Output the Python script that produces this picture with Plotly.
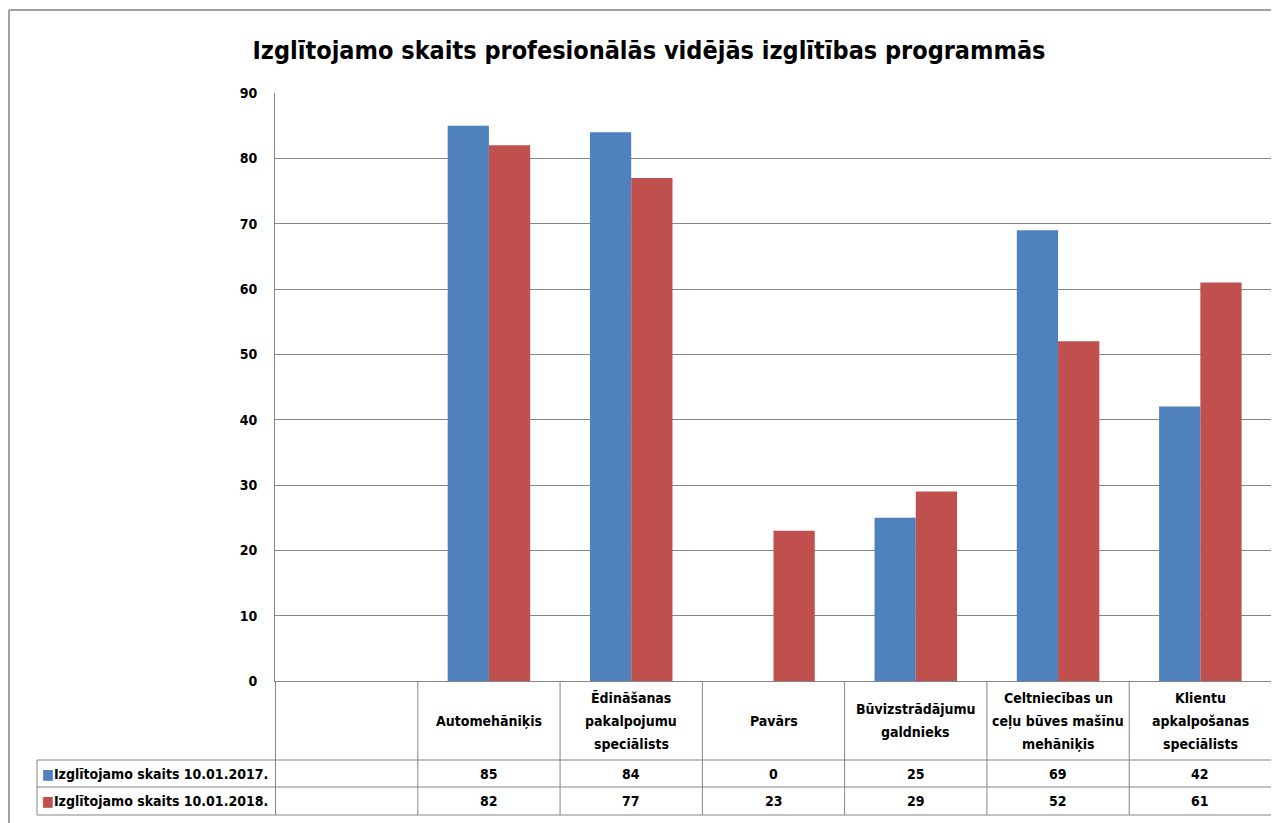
"""
Izglītojamo skaits profesionālās vidējās izglītības programmās
Excel-style clustered column chart with a data table under the axis
"""

import plotly.graph_objects as go

# Categories (first column of the original chart is an empty one)
categories = [" ", "Automehāniķis", "Ēdināšanas pakalpojumu speciālists", "Pavārs",
              "Būvizstrādājumu galdnieks", "Celtniecības un ceļu būves mašīnu mehāniķis",
              "Klientu apkalpošanas speciālists"]
header_labels = ["", "Automehāniķis", "Ēdināšanas<br>pakalpojumu<br>speciālists", "Pavārs",
                 "Būvizstrādājumu<br>galdnieks", "Celtniecības un<br>ceļu būves mašīnu<br>mehāniķis",
                 "Klientu<br>apkalpošanas<br>speciālists"]
series_names = ["Izglītojamo skaits 10.01.2017.", "Izglītojamo skaits 10.01.2018."]
values_2017 = [None, 85, 84, 0, 25, 69, 42]
values_2018 = [None, 82, 77, 23, 29, 52, 61]
y_ticks = [0, 10, 20, 30, 40, 50, 60, 70, 80, 90]

BLUE = '#4F81BD'
RED = '#C0504D'
GRID = '#868686'
FONT = 'DejaVu Sans Condensed, DejaVu Sans, sans-serif'

# the page body adds an 8px margin, so figure pixels = page pixels - 8
OFF = 8
W, H = 1279 - OFF, 823 - OFF
L = 275 - OFF
T = 93 - OFF
B = H - (681 - OFF)
R = W - (1272 - OFF)
plot_h = H - T - B
plot_w = W - L - R


def py(page_y):
    # page pixel row -> paper y
    return (H - B - (page_y - OFF)) / plot_h


def px(page_x):
    # page pixel column -> paper x
    return (page_x - OFF - L) / plot_w


fig = go.Figure()
for name, vals, col in [(series_names[0], values_2017, BLUE), (series_names[1], values_2018, RED)]:
    fig.add_trace(go.Bar(x=categories, y=vals, name=name, marker=dict(color=col, line=dict(width=0))))

fig.update_layout(
    width=W, height=H,
    margin=dict(l=L, r=R, t=T, b=B),
    paper_bgcolor='white', plot_bgcolor='white',
    barmode='group', bargap=0.42, bargroupgap=0,
    showlegend=False,
    font=dict(family=FONT, size=14, color='black'),
    title=dict(text='<b>Izglītojamo skaits profesionālās vidējās izglītības programmās</b>',
               x=(649 - OFF) / W, xref='container', xanchor='center',
               y=1 - (50 - OFF) / H, yref='container', yanchor='middle',
               font=dict(family=FONT, size=25, color='black')),
)
fig.update_xaxes(showticklabels=False, showgrid=False, showline=True, linecolor=GRID,
                 linewidth=1, ticks='', categoryorder='array', categoryarray=categories)
fig.update_yaxes(range=[0, 90], tickvals=y_ticks, ticktext=[f'<b>{v}</b>' for v in y_ticks],
                 showgrid=True, gridcolor=GRID, gridwidth=1, showline=True, linecolor=GRID,
                 linewidth=1, ticks='', ticklabelstandoff=14, zeroline=False,
                 tickfont=dict(family=FONT, size=14, color='black'))

# data table under the plot
row_lines = [760, 787, 815]
row_centers = [773.5, 801]
header_center = 720.5
line_step = 23
n = len(categories)
line = dict(color=GRID, width=1)
for k in range(n + 1):
    fig.add_shape(type='line', xref='x', yref='paper', x0=k - 0.5, x1=k - 0.5,
                  y0=0, y1=py(row_lines[-1]), line=line)
legend_left = px(37)
for yy in row_lines:
    fig.add_shape(type='line', xref='paper', yref='paper', x0=legend_left, x1=1,
                  y0=py(yy), y1=py(yy), line=line)
fig.add_shape(type='line', xref='paper', yref='paper', x0=legend_left, x1=legend_left,
              y0=py(row_lines[0]), y1=py(row_lines[-1]), line=line)

for cat, lab in zip(categories, header_labels):
    if not lab:
        continue
    parts = lab.split('<br>')
    for i, part in enumerate(parts):
        yc = header_center + (i - (len(parts) - 1) / 2) * line_step
        fig.add_annotation(x=cat, xref='x', y=py(yc), yref='paper', text=f'<b>{part}</b>',
                           showarrow=False, xanchor='center', yanchor='middle')

for name, vals, col, yc in [(series_names[0], values_2017, BLUE, row_centers[0]),
                            (series_names[1], values_2018, RED, row_centers[1])]:
    fig.add_annotation(x=px(40), xref='paper', y=py(yc), yref='paper', xanchor='left', yanchor='middle',
                       text=f"<span style='color:{col}'>■</span><b>{name}</b>",
                       showarrow=False)
    for cat, v in zip(categories, vals):
        if v is not None:
            fig.add_annotation(x=cat, xref='x', y=py(yc), yref='paper', text=f'<b>{v}</b>',
                               showarrow=False, xanchor='center', yanchor='middle')

# chart area border (top and left edge visible in the original)
fig.add_shape(type='line', xref='paper', yref='paper', x0=px(9), x1=px(1290),
              y0=py(10), y1=py(10), line=dict(color='#A0A0A0', width=2))
fig.add_shape(type='line', xref='paper', yref='paper', x0=px(9), x1=px(9),
              y0=py(10), y1=py(830), line=dict(color='#A0A0A0', width=2))

fig.write_html("out.html")
